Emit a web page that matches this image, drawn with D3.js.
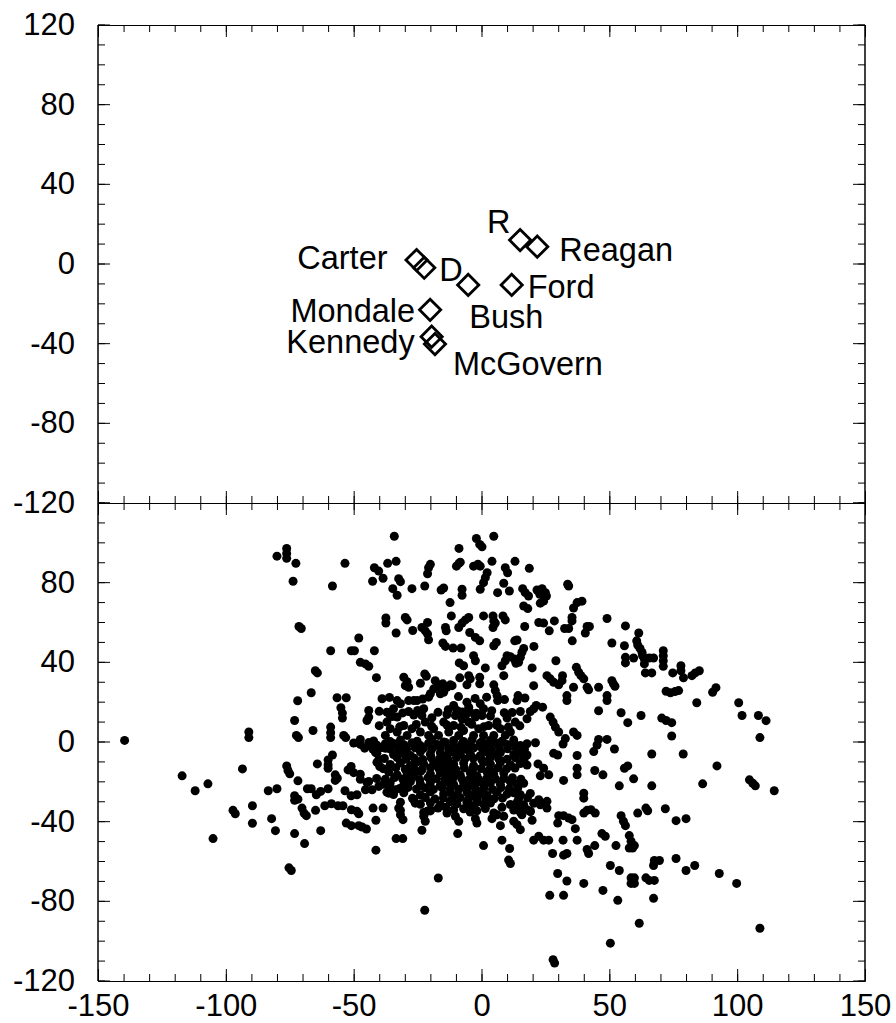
<!DOCTYPE html>
<html>
<head>
<meta charset="utf-8">
<script src="https://cdn.jsdelivr.net/npm/d3@7"></script>
<style>
  body { margin: 0; background: #fff; }
  svg text { font-family: "Liberation Sans", Arial, Helvetica, sans-serif; }
</style>
</head>
<body>
<div id="chart"></div>
<script>
// ---- data ----
// candidate / party points in the top panel
var candNames = ["R", "Reagan", "Carter", "D", "Ford", "Mondale", "Bush", "Kennedy", "McGovern"];
var candX = [15.1, 21.8, -25.4, -22.4, 11.8, -20.1, -5.2, -19.5, -18.2];
var candY = [12.0, 8.7, 2.0, -1.9, -10.5, -23.0, -10.5, -36.5, -40.2];

// tick labels
var xTickLabels = [-150, -100, -50, 0, 50, 100, 150];
var yTickLabelsTop = [120, 80, 40, 0, -40, -80, -120];
var yTickLabelsBottom = [80, 40, 0, -40, -80, -120];

// respondent points in the bottom panel [x, y]
var voters = [
  // far left / upper left
  [-80,93.3],[-76.2,97.2],[-76.2,94.7],[-76.2,92.2],[-72.6,89.7],[-53.4,89.7],[-73.7,80.7],[-58.3,78.3],
  [-71.4,58],[-70.5,57],[-59,45.8],[-50.9,45.8],[-65,35.8],[-64.2,34.7],[-66.6,24.7],[-71.9,20.7],
  [-56.5,22.2],[-52.9,22.2],[-55,17.2],[-54.4,14.5],[-54.4,12],[-73.1,10.8],[-65.9,5.8],[-59,7.5],
  [-59,4.7],[-59,2.2],[-72.4,3.3],[-71.6,2.2],[-53.9,3.3],[-53.1,2.2],[-91,5],[-91,2.2],[-139.6,0.8],
  // far left / lower left
  [-58.3,-6.5],[-60,-9],[-60,-11.5],[-60,-13.2],[-64.2,-11],[-76.2,-12],[-75.7,-14.3],[-75,-16],
  [-93.5,-13.5],[-117.1,-17],[-107,-21],[-112,-24.5],[-71.8,-19.5],[-57.2,-16.5],[-56.4,-18.2],[-57.2,-19.3],
  [-52.2,-14],[-51,-12.3],[-68.1,-23.5],[-66.6,-23.5],[-64.6,-26.5],[-62.9,-24.8],[-60,-23.5],[-53.4,-24.5],
  [-83.4,-24.5],[-80,-23.5],[-73.1,-27],[-73.1,-29.3],[-71.8,-28.7],[-89.6,-32],[-97.2,-34.3],[-96.3,-36],
  [-70.2,-33.2],[-69.4,-35.7],[-68.5,-37],[-64.9,-34.3],[-61.3,-32],[-58.7,-31],[-56.1,-32],[-54.2,-32],
  [-50.9,-34],[-82.1,-38.5],[-89.6,-40.8],[-80.6,-44.5],[-73.1,-46],[-62.9,-44.5],[-69.2,-51],[-52.9,-40.7],
  [-50.9,-42],[-105,-48.5],[-75.3,-63.2],[-74.4,-64.5],[-51,-27],
  // centre, upper half
  [-34.1,103.3],[-2,102.2],[-0.7,99.2],[0.2,98],[4.8,103.3],[-8.8,97.2],[-36.7,89.7],[-33.4,90.7],
  [-41.9,87.5],[-40.2,85.8],[-38.5,82.2],[-42.6,80.7],[-32.4,82],[-31.7,80.5],[-34.7,77],[-33,73.7],
  [-27.2,77],[-22.2,78.3],[-20,89.2],[-20.7,87.5],[-21.1,84.5],[-15.8,76.3],[-14.8,77.3],[-9.8,88.3],
  [-8.8,89.7],[-8.3,90.3],[-7.6,76.7],[-7.6,73.7],[-3.1,88.3],[-1.4,89.3],[-0.5,88.3],[2.2,85],
  [1.5,82.5],[0.8,80],[-0.5,76.7],[4.1,90.7],[13.1,90.7],[9.3,87.5],[10.2,85],[18.7,87.2],
  [8.7,79.7],[10.9,75.8],[6.3,75],[16.1,77],[17.1,75],[18.4,73.3],[21.7,76.3],[23.7,77],
  [25,75],[25.4,73.3],[22.8,74.2],[16.5,68.3],[18.1,67],[23,69.7],[24.3,70.7],[33.7,79.2],
  [34.1,78.3],[37.4,70],[39.3,70.7],[36,67.3],[-12.3,70],[-11.8,63.3],
  [-37.4,62.3],[-37.4,59.7],[-29.8,62.5],[-29.1,61.3],[-33.4,54.7],[-26.9,56],[-23.3,57.5],[-22,55.8],
  [-21.1,60],[-21.1,54.2],[-20.7,51.3],[-14.1,57.5],[-13.8,55.8],[-8.9,57.5],[-7.6,59.7],[-6.3,61.3],
  [-5,62.5],[-4.6,55],[-2.4,52.5],[-0.7,50.8],[0.8,63.3],[4.5,63.3],[4.8,60.8],[4.5,57.5],
  [5.4,59.7],[8.4,63.3],[9.3,61.3],[16.9,58],[22.4,60],[24.3,59.7],[26.5,55.8],[28.5,60.8],
  [32.5,57],[34.1,57],[35.4,62.5],[35.4,60.8],[41.3,58],[42.2,58],[40.6,54.7],[49.1,62],
  [35.5,50.8],[-48,52.2],[-49.7,45.8],[-41.9,45.8],[-15.1,49.7],[-14.1,48],[-11.1,47.2],[-8,47.2],
  [4.8,48.3],[5.8,50],[13,50.8],[13.9,51.2],[16.5,47],[15.8,45],[15.2,42.5],[14.5,40],
  [20.5,48],[10,43.3],[11.3,42.8],[9.3,40.8],[8,38.3],[12.8,41.7],[13.5,39.5],[-3.1,43.3],
  [-2.4,40.8],[-8.7,39.7],[-7,38.3],[1.5,37.2],[-47.4,40],[-45.4,39.2],[-44.1,38],[-41.1,32.3],
  [-30.4,32.5],[-29.1,30.3],[-29.8,28.3],[-28.5,27.5],[-22.2,34.2],[-21.6,33],[-23.9,29.5],[-18.1,30.8],
  [-16.4,28.7],[-17.7,27],[-8.5,32.2],[-5,33.3],[-4.4,31.7],[-5.7,28.7],[-0.7,32.5],[-0.7,29.2],
  [8.7,33.3],[19.8,37.2],[20.4,28.3],[29.1,40.8],[25.6,33.3],[26.9,31.7],[28.2,30],[30.2,28.7],
  [31.7,33.3],[31.5,30.8],[37.1,37.5],[38,35],[38.9,33.3],[40,31.7],[36,27.5],[41.9,26.2],
  [41.3,27.5],[45.8,27.5],[49.1,23.3],[49.1,20.8],[33.4,23.3],[33.4,20.8],[45.8,15.7],[14.3,23.3],
  [13.9,20.8],[4.8,28.7],[5.4,25.8],[6.1,23.3],[6.3,20.8],[-15.1,29.2],[-13.5,27.5],[-12.2,28.7],
  [-11.5,28.3],[-18.7,26.7],[-20,24.2],[-20.7,22.5],[-16.1,24.2],[-14.8,25],[-38.9,21.7],[-28.5,20.8],
  [-26.5,20.8],[-25.2,20.8],[-33,20.8],[-31.7,19.2],[-44.1,15.8],[-44.1,12.5],[-44.8,10.8],[-37,15],
  [-35.7,13.3],[-34.4,16.7],[-33,12.5],[-28.5,15.3],[-22.6,16.7],[-23.3,13.3],[-10.9,18.3],[-9.6,15.8],
  [-10.2,13.3],[-5.7,20],[-5,17.5],[-4.4,15],[-6.3,13.3],[-0.5,19.2],[0.8,16.7],[0.2,13.3],
  [8.9,14.7],[15.2,15.3],[19.1,15.3],[20.4,16.7],[21.4,18.3],[23.9,17.5],[26.9,12.5],[28,10],
  [28.9,7.5],[30.2,5],[36,5],[37.4,3.3],[32.8,1.7],[45.8,1.3],[49.1,1.3],[13.2,10],
  [17.8,11.7],[6.1,10],[7.4,6.7],
  [-37,10],[-35.7,6.7],[-37.6,3.3],[-33,5],[-30.4,8.3],[-29.1,3.3],[-27.2,6.7],[-23.9,5],
  [-22,10],[-20.7,3.3],[-18.7,6.7],[-16.8,3.3],[-14.8,10],[-12.8,5],[-10.9,8.3],[-8.9,3.3],
  [-7,5.8],[-5,10],[-3.1,3.3],[-1.1,6.7],[0.8,3.3],[2.8,8.3],[4.8,3.3],[9.3,3.3],
  [11.3,5],[-47.4,1.3],
  [-35,12.8],[-26.5,13.5],[-19.4,12.2],[-13.5,13.8],[-7.6,11.5],[-2.4,12.5],[3.5,13],[10,12],
  [-42.2,0.5],[-35.7,0.2],[-31.7,1],[-25.2,0.4],[-19.4,1.2],[-14.8,0],[-10.9,0.8],[-7,0.3],
  [-3.7,1.1],[0.2,0.2],[3.5,0.9],[8,0.4],[12.6,1],
  [-40,8.2],[-32,7.6],[-25.5,8.8],[-19.5,7.9],[-13.5,8.5],[-8,7.4],[-3.8,8.9],[1,7.7],[6,8.4],[10.5,7.5],[15,8.1],
  [-40,15.4],[-30.8,14.6],[-25,15.8],[-17,14.9],[-13,16.2],[-7.5,15.1],[-2,14.4],[4,15.7],[12,14.8],
  [-36,22.4],[-23,21.6],[-9,22.8],[-2.5,21.9],[2,22.5],[9,21.3],[17,22.1],
  // right, upper half
  [56.3,58.3],[61.5,54.7],[60.7,50.8],[61.1,48.7],[62,47],[62.8,45],[63,43.3],[51,49.7],
  [55.9,48.3],[56.3,42.5],[56.3,39.7],[59.5,42.2],[63.7,41.7],[63.7,39.2],[65.6,42.2],[67.3,42.2],
  [64.1,34.7],[66.6,34.7],[71.1,45.8],[71.1,43.3],[71.1,40.8],[71.1,38],[78,38.3],[78,35.8],
  [79,32.2],[74.8,34.7],[82.3,33.3],[83.6,34.7],[85.2,35.8],[51,30.8],[51.6,29.2],[52.2,28],
  [72.2,25.5],[73.9,24.7],[75.7,25.3],[77.1,25.8],[90.4,25],[91.7,27.3],[84.2,19.7],[100.6,19.7],
  [54.6,14.7],[57.2,9.7],[62.4,13.3],[70.5,12],[72.2,10.8],[74.4,9.7],[74.4,3],[101.9,13.3],
  [108.3,13.3],[111.3,10.7],[108.9,2.2],
  // right, lower half
  [52,-3.5],[66.6,-6],[78.9,-6],[55.9,-13.2],[57.2,-12],[92.1,-12],[59.5,-18.5],[53.9,-22],
  [66.6,-22],[86.5,-21],[104.8,-19],[106.1,-20.7],[107.1,-22],[114.5,-24.5],[54.6,-37],[55.5,-39.8],
  [56.3,-42],[61.1,-35.7],[64.3,-33.2],[65,-34.5],[71.9,-33.5],[76.1,-39.5],[80,-38.5],[52.6,-52],
  [57.8,-47],[58.5,-49.8],[57.8,-53.2],[59.8,-52],[59.1,-53.2],[50.4,-62],[53.9,-64.5],[67.6,-59.5],
  [69.6,-59.5],[67.3,-62],[76.1,-58.5],[80,-64.5],[83.4,-62],[93,-66],[99.8,-71],[58.5,-68.2],
  [58.5,-71],[59.8,-68.2],[59.8,-71],[64.3,-68.2],[65.6,-69.5],[67.6,-69.5],[53.3,-79.5],[67.3,-78.5],
  [61.7,-91],[108.9,-93.5],[50.4,-101],
  // centre, lower half (sparse)
  [-41.3,-54.3],[-33.4,-48.5],[-30.8,-48.5],[-16.9,-68.3],[-22.2,-84.5],[0.8,-52],[8,-49.3],[11,-53.5],
  [10.6,-59.3],[11.3,-61],[20.4,-49.3],[22.4,-47.3],[24.3,-49.3],[26.3,-49.3],[27.8,-56],[29.8,-66],
  [33.4,-69.8],[26.7,-77],[32.1,-77],[28,-109.3],[28.6,-111],[31.9,-49.3],[32.1,-56.8],[33.4,-56],
  [37.4,-49.3],[41.3,-54],[41.9,-56],[40,-71],[44.3,-52],[47.5,-74.5],[47.1,-46],[48.4,-47.3],
  [36.7,-43.5],[29.8,-40.7],[30.2,-37],[32.1,-37],[34.1,-38.2],[35.4,-39],[40,-35.7],[41.3,-34.3],
  [42.8,-34],[44.5,-35.7],[40,-25.7],[40,-28.2],[37.4,-13.2],[37.4,-16.5],[37.4,-6.8],[32.1,-19.3],
  [44.3,-14.3],[47.5,-16.5],[43.9,-4.8],[45.2,-1.5],[28.2,-5.7],[29.8,-6.5],[31.9,-1],[26.3,-16.5],
  [23,-17],[22.1,-11],[24.3,-13.2],[22.4,-29],[23,-31.5],[25.6,-29.8],[25.6,-33.2],[19.8,-39.3],
  [13.9,-41.5],[15.2,-44],[7.4,-42],[4.1,-38.5],[6.1,-36.5],[8.7,-37.3],[12.6,-39.8],[15.8,-36.5],
  [17.8,-34],[19.1,-34.8],[-2.4,-38.5],[-1.8,-40.7],[-9.3,-46],[-10.2,-37.3],[-8.9,-39.8],[-23.3,-44.3],
  [-22,-39.8],[-22.6,-37.3],[-21.3,-34.8],[-20,-34],[-32.4,-33.2],[-31.7,-36.5],[-30.7,-39],[-42.4,-33.2],
  [-38.5,-33.2],[-41.3,-39.3],[-48.7,-34.8],[-48,-36],[-48,-42],[-46.7,-42.7],[-45,-43.7],[-26.5,-29],
  [-25.9,-30.7],[-48.7,-26.5],[-45.4,-24],[-44.1,-19.8],[-42.8,-24],[-40.2,-22.3],[-37.6,-18.7],[-47.4,-18.7],
  [-40.9,-5.7],[-40.2,-9],[-39.8,-12.3],[-37.6,-3.2],[-34.4,-0.7],[-31.7,-4],[-35.7,-23.2],[-35,-25.7],
  [-33.7,-24],[-36.3,-25.7],
  // dense core
  [-50,-0.5],[-47.4,-1.2],[-44.1,-0.3],[-40.9,-1.6],[-37.6,-0.9],[-30.4,-1.4],[-27.2,-0.4],[-23.9,-1.8],
  [-20.7,-0.6],[-17.4,-1.3],[-14.1,-0.2],[-10.9,-1.5],[-7.6,-0.8],[-4.4,-1.9],[-0.5,-0.5],[2.2,-1.4],
  [5.4,-0.3],[10,-1.2],[12.6,-0.6],[15.2,-1.7],[17.8,-0.9],[21.1,-0.4],
  [-45.7,-3.1],[-42.5,-3.5],[-39.2,-2.8],[-35.9,-3.4],[-32.6,-3],[-29.3,-3.6],[-26,-2.9],[-22.8,-3.3],
  [-19.5,-3.7],[-16.2,-2.8],[-12.9,-3.4],[-9.6,-3.1],[-6.3,-3.6],[-3,-2.9],[0.3,-3.3],[3.6,-3.5],
  [6.9,-2.8],[10.2,-3.4],[13.5,-3.1],[16.8,-3.6],
  [-41.5,-5.2],[-34.4,-6.3],[-30.4,-5.5],[-27.8,-6.8],[-23.9,-4.9],[-20,-6.1],[-16.1,-5.4],[-13.5,-6.6],
  [-10.9,-5],[-8.3,-6.2],[-4.4,-5.6],[-0.5,-6.9],[2.2,-5.1],[4.8,-6],[7.4,-5.3],[12.6,-6.4],
  [15.2,-5.7],[17.8,-6.5],
  [-38,-8.3],[-33,-7.8],[-29.6,-8.6],[-26.3,-8.1],[-23,-8.8],[-19.7,-7.9],[-16.4,-8.4],[-13.1,-8.7],
  [-9.8,-7.8],[-6.5,-8.5],[-3.2,-8.2],[0.1,-8.9],[3.4,-7.9],[6.7,-8.4],[10,-8.6],[13.3,-8],[16.6,-8.7],
  [-40.9,-10.2],[-35.7,-11.3],[-31.7,-10.5],[-27.8,-11.8],[-25.2,-9.9],[-22.6,-11],[-18.7,-10.4],[-16.1,-11.6],
  [-13.5,-10],[-10.9,-11.2],[-7,-10.6],[-3.1,-11.9],[0.8,-10.1],[3.5,-11.1],[7.4,-10.3],[11.3,-11.5],
  [15.2,-10.8],[17.8,-11.6],
  [-38.5,-13.4],[-33.5,-12.9],[-29.8,-13.7],[-26.5,-13.1],[-23.2,-13.8],[-19.9,-12.9],[-16.6,-13.5],[-13.3,-13.2],
  [-10,-13.9],[-6.7,-13],[-3.4,-13.6],[-0.1,-13.3],[3.2,-13.8],[6.5,-12.9],[9.8,-13.5],[13.1,-13.1],
  [-50,-15.4],[-47.4,-16.2],[-36.3,-15.1],[-33,-16.5],[-29.1,-15.6],[-26.5,-16.8],[-23.9,-14.9],[-20,-16],
  [-16.1,-15.3],[-13.5,-16.4],[-10.9,-15],[-8.3,-16.6],[-4.4,-15.5],[-1.8,-16.9],[2.2,-15.2],[4.8,-16.1],
  [8.7,-15.6],
  [-41,-18.3],[-34,-17.8],[-30.8,-18.6],[-27.5,-18.1],[-24.2,-18.9],[-20.9,-17.9],[-17.6,-18.4],[-14.3,-18.8],
  [-11,-17.9],[-7.7,-18.5],[-4.4,-18.2],[-1.1,-18.8],[2.2,-18],[5.5,-18.6],[8.8,-18.3],[12.1,-17.9],[15.4,-18.7],
  [-44.8,-20.3],[-38.3,-21.2],[-35.7,-20.5],[-30.4,-21.6],[-27.8,-19.9],[-23.9,-21],[-20,-20.4],[-16.1,-21.8],
  [-13.5,-20.1],[-10.9,-21.3],[-7,-20.6],[-4.4,-21.9],[-1.8,-20.2],[0.8,-21.1],[3.5,-20.5],[7.4,-21.4],
  [11.3,-20],[13.9,-21.2],[16.5,-20.7],
  [-32,-23.3],[-28.7,-22.8],[-25.4,-23.6],[-22.1,-23.1],[-18.8,-23.8],[-15.5,-22.9],[-12.2,-23.4],[-8.9,-23.7],
  [-5.6,-22.9],[-2.3,-23.5],[1,-23.2],[4.3,-23.8],[7.6,-22.9],[10.9,-23.4],[14.2,-23.1],
  [-37,-25.2],[-34.4,-26.4],[-30.4,-25.5],[-23.9,-26.7],[-20,-25],[-14.8,-26.1],[-12.2,-25.4],[-9.6,-26.6],
  [-5.7,-25.1],[-3.1,-26.3],[-0.5,-25.6],[2.2,-26.8],[6.1,-25.3],[10,-26.2],[12.6,-25.5],[15.2,-26.5],
  [19.1,-25.8],
  [-27,-28.3],[-22,-27.9],[-18.2,-28.6],[-14.9,-28.1],[-11.6,-28.8],[-8.3,-27.9],[-5,-28.4],[-1.7,-28.7],
  [1.6,-27.9],[4.9,-28.5],[8.2,-28.2],[14.5,-28.6],[18,-28],
  [-31.7,-30.2],[-23.9,-31.3],[-20,-30.5],[-16.1,-31.6],[-12.2,-30],[-9.6,-31.1],[-5.7,-30.4],[-4.4,-31.8],
  [-1.8,-30.1],[0.8,-31.2],[3.5,-30.6],[11.3,-31.4],[13.9,-30.3],[16.5,-31.5],[20.4,-30.8],[23,-31.1],
  [-17,-33.2],[-14,-32.7],[-7,-33.5],[-3,-32.9],[1.5,-33.4],[8,-32.8],[14,-33.3],
  [-31.7,-34.3],[-22.6,-35.4],[-20,-34.6],[-13.5,-35.7],[-10.9,-34.1],[-4.4,-35.2],[-1.8,-34.5],[4.8,-35.6],
  [12.6,-34.2],[15.2,-35.3],[19.1,-34.9]
];

// ---- layout ----
var svgWidth = 896;
var svgHeight = 1023;
var plotLeft = 98, plotRight = 865;
var topPanel = {top: 25, bottom: 503};
var botPanel = {top: 503, bottom: 981};

// label placement relative to each diamond (pixels)
var labelOffsets = {
  "R":        {dx: -33, dy: -7,  anchor: "start"},
  "Reagan":   {dx: 22,  dy: 14,  anchor: "start"},
  "Carter":   {dx: -29, dy: 9,   anchor: "end"},
  "D":        {dx: 15,  dy: 13,  anchor: "start"},
  "Ford":     {dx: 16,  dy: 13,  anchor: "start"},
  "Mondale":  {dx: -15, dy: 12,  anchor: "end"},
  "Bush":     {dx: 1,   dy: 43,  anchor: "start"},
  "Kennedy":  {dx: -17, dy: 16,  anchor: "end"},
  "McGovern": {dx: 18,  dy: 31,  anchor: "start"}
};

var svg = d3.select("#chart")
  .append("svg")
  .attr("width", svgWidth)
  .attr("height", svgHeight)
  .style("background", "#fff");

var xScale = d3.scaleLinear().domain([-150, 150]).range([plotLeft, plotRight]);
var yTop = d3.scaleLinear().domain([-120, 120]).range([topPanel.bottom, topPanel.top]);
var yBot = d3.scaleLinear().domain([-120, 120]).range([botPanel.bottom, botPanel.top]);

var minorX = d3.range(-150, 151, 10);
var minorY = d3.range(-120, 121, 10);
var majorY = [120, 80, 40, 0, -40, -80, -120];

// draws one tick set; labels only for values listed in labelVals
function addAxis(axisGen, values, size, translate, labelVals, padding, offset) {
  axisGen.tickValues(values)
    .tickSize(size)
    .tickSizeOuter(0)
    .tickFormat(function(d) { return labelVals && labelVals.indexOf(d) >= 0 ? String(d) : ""; });
  if (padding != null) axisGen.tickPadding(padding);
  if (offset != null) axisGen.offset(offset);
  var g = svg.append("g").attr("transform", translate).call(axisGen);
  g.attr("font-size", 31).attr("font-family", "'Liberation Sans', Arial, sans-serif");
  g.selectAll("line").attr("stroke", "#000");
  g.select(".domain").attr("stroke", "#000");
  g.selectAll("text").attr("fill", "#000");
  return g;
}

function drawFrame(yScale, panel, yLabels, xLabels) {
  // top edge, ticks point down
  addAxis(d3.axisBottom(xScale), minorX, 7, `translate(0, ${panel.top})`);
  addAxis(d3.axisBottom(xScale), xTickLabels, 12, `translate(0, ${panel.top})`);
  // bottom edge, ticks point up
  addAxis(d3.axisBottom(xScale), minorX, -7, `translate(0, ${panel.bottom})`);
  addAxis(d3.axisBottom(xScale), xTickLabels, -12, `translate(0, ${panel.bottom})`, xLabels, 13);
  // left edge, ticks point right
  addAxis(d3.axisLeft(yScale), minorY, -7, `translate(${plotLeft}, 0)`, null, null, 0);
  addAxis(d3.axisLeft(yScale), majorY, -12, `translate(${plotLeft}, 0)`, yLabels, 23, 0);
  // right edge, ticks point left
  addAxis(d3.axisRight(yScale), minorY, -7, `translate(${plotRight}, 0)`, null, null, 0);
  addAxis(d3.axisRight(yScale), majorY, -12, `translate(${plotRight}, 0)`, null, null, 0);
}

drawFrame(yTop, topPanel, yTickLabelsTop, null);
drawFrame(yBot, botPanel, yTickLabelsBottom, xTickLabels);

// top panel: hollow diamonds with names
var cands = candNames.map(function(name, i) {
  return {name: name, x: candX[i], y: candY[i]};
});

var diamond = d3.symbol().type(d3.symbolSquare).size(225);

svg.append("g").selectAll("path")
  .data(cands)
  .enter()
  .append("path")
  .attr("d", diamond)
  .attr("transform", d => `translate(${xScale(d.x)}, ${yTop(d.y)}) rotate(45)`)
  .attr("fill", "none")
  .attr("stroke", "#000")
  .attr("stroke-width", 2.8);

svg.append("g").selectAll("text")
  .data(cands)
  .enter()
  .append("text")
  .attr("x", d => xScale(d.x) + labelOffsets[d.name].dx)
  .attr("y", d => yTop(d.y) + labelOffsets[d.name].dy)
  .attr("text-anchor", d => labelOffsets[d.name].anchor)
  .attr("font-size", 32.5)
  .attr("fill", "#000")
  .text(d => d.name);

// bottom panel: respondents
svg.append("g").selectAll("circle")
  .data(voters)
  .enter()
  .append("circle")
  .attr("cx", d => xScale(d[0]))
  .attr("cy", d => yBot(d[1]))
  .attr("r", 4.5)
  .attr("fill", "#000");
</script>
</body>
</html>
